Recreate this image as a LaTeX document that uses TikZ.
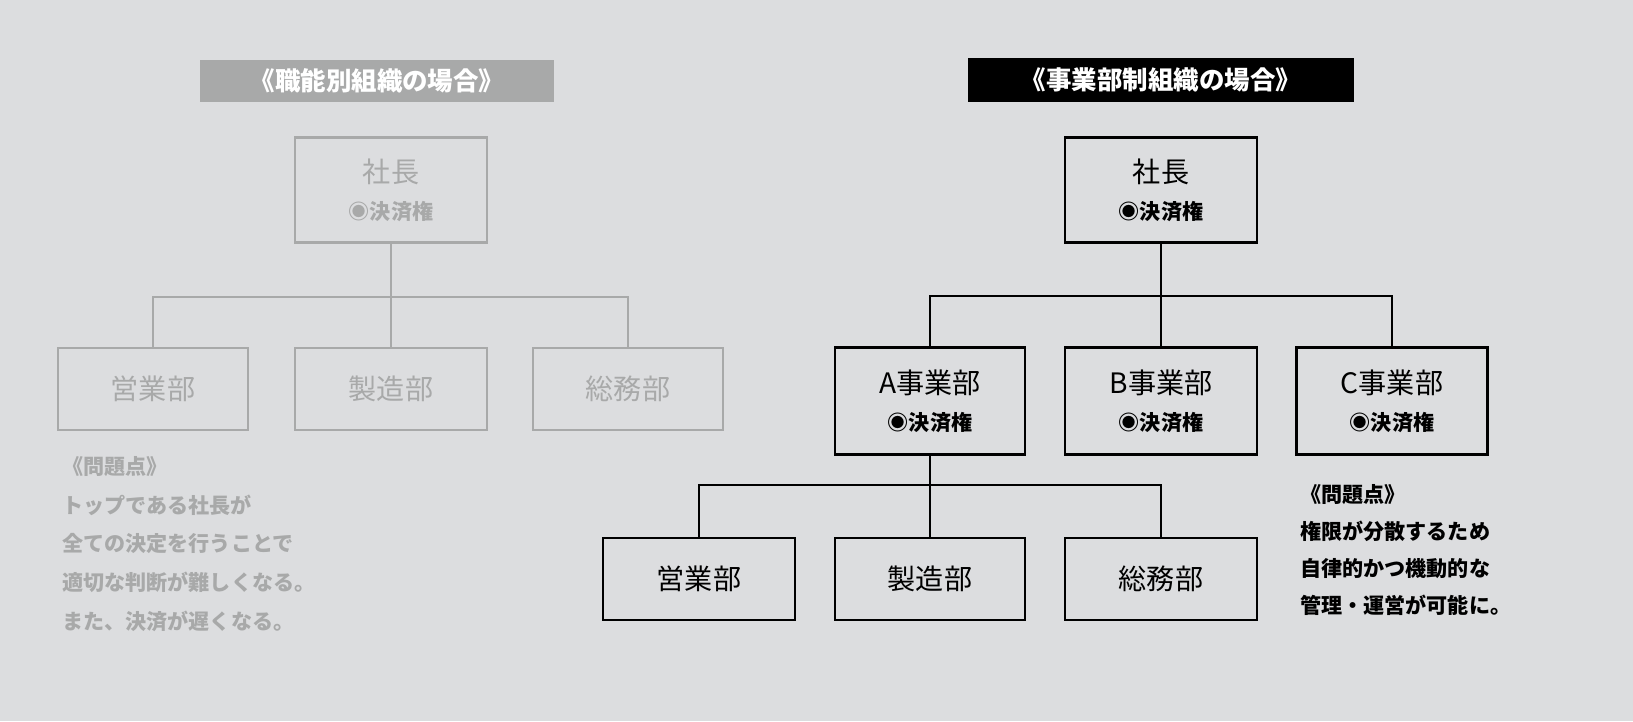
\documentclass[tikz,border=0pt]{standalone}
\usepackage{fontspec}
\setmainfont{Noto Sans CJK JP}
\usetikzlibrary{positioning}
\definecolor{bgc}{HTML}{DCDDDF}
\definecolor{pale}{HTML}{A8A9A9}
\tikzset{
  box/.style={draw,line width=1.5pt,fill=bgc,align=center,inner sep=0pt,font=\fontsize{16}{19}\selectfont},
  head/.style={inner sep=0pt,font=\fontsize{14.5}{17}\selectfont\bfseries},
  note/.style={anchor=north west,align=left,inner sep=0pt,font=\fontsize{12}{22}\selectfont\bfseries},
  wire/.style={line width=1.5pt}
}
\newcommand{\kessai}{{\fontsize{12}{14}\selectfont\bfseries ◉決済権}}
\begin{document}
\begin{tikzpicture}[x=0.02cm,y=-0.02cm]
  \fill[bgc] (0,0) rectangle (1633,721);
  % functional organisation
  \begin{scope}[pale,draw=pale]
    \node[head,fill=pale,text=white,minimum width=7.1cm,minimum height=0.84cm] (ftitle) at (377,81) {《職能別組織の場合》};
    \node[box,minimum width=3.84cm,minimum height=2.1cm] (fceo) at (391,190) {社長\\[2pt]\kessai};
    \node[box,minimum width=3.8cm,minimum height=1.64cm] (fsales) at (153,389) {営業部};
    \node[box,minimum width=3.84cm,minimum height=1.64cm] (fmake) at (391,389) {製造部};
    \node[box,minimum width=3.8cm,minimum height=1.64cm] (fadmin) at (628,389) {総務部};
    \coordinate (fj) at (391,297);
    \draw[wire] (fceo.south) -- (fj);
    \draw[wire] (fsales.north) |- (fj) -| (fadmin.north);
    \draw[wire] (fj) -- (fmake.north);
    \node[note] (fnote) at (62,456) {《問題点》\\トップである社長が\\全ての決定を行うことで\\適切な判断が難しくなる。\\また、決済が遅くなる。};
  \end{scope}
  % divisional organisation
  \node[head,fill=black,text=white,minimum width=7.74cm,minimum height=0.88cm] (dtitle) at (1161,80) {《事業部制組織の場合》};
  \node[box,minimum width=3.84cm,minimum height=2.1cm] (dceo) at (1161,190) {社長\\[2pt]\kessai};
  \node[box,minimum width=3.8cm,minimum height=2.14cm] (diva) at (930,401) {A事業部\\[2pt]\kessai};
  \node[box,minimum width=3.84cm,minimum height=2.14cm] (divb) at (1161,401) {B事業部\\[2pt]\kessai};
  \node[box,minimum width=3.82cm,minimum height=2.14cm] (divc) at (1392,401) {C事業部\\[2pt]\kessai};
  \coordinate (dj) at (1161,296);
  \draw[wire] (dceo.south) -- (dj);
  \draw[wire] (diva.north) |- (dj) -| (divc.north);
  \draw[wire] (dj) -- (divb.north);
  \node[box,minimum width=3.84cm,minimum height=1.64cm] (dsales) at (699,579) {営業部};
  \node[box,minimum width=3.8cm,minimum height=1.64cm] (dmake) at (930,579) {製造部};
  \node[box,minimum width=3.84cm,minimum height=1.64cm] (dadmin) at (1161,579) {総務部};
  \coordinate (ej) at (930,485);
  \draw[wire] (diva.south) -- (ej);
  \draw[wire] (dsales.north) |- (ej) -| (dadmin.north);
  \draw[wire] (ej) -- (dmake.north);
  \node[note,font=\fontsize{12}{21}\selectfont\bfseries] (dnote) at (1300,484) {《問題点》\\権限が分散するため\\自律的かつ機動的な\\管理・運営が可能に。};
\end{tikzpicture}
\end{document}
